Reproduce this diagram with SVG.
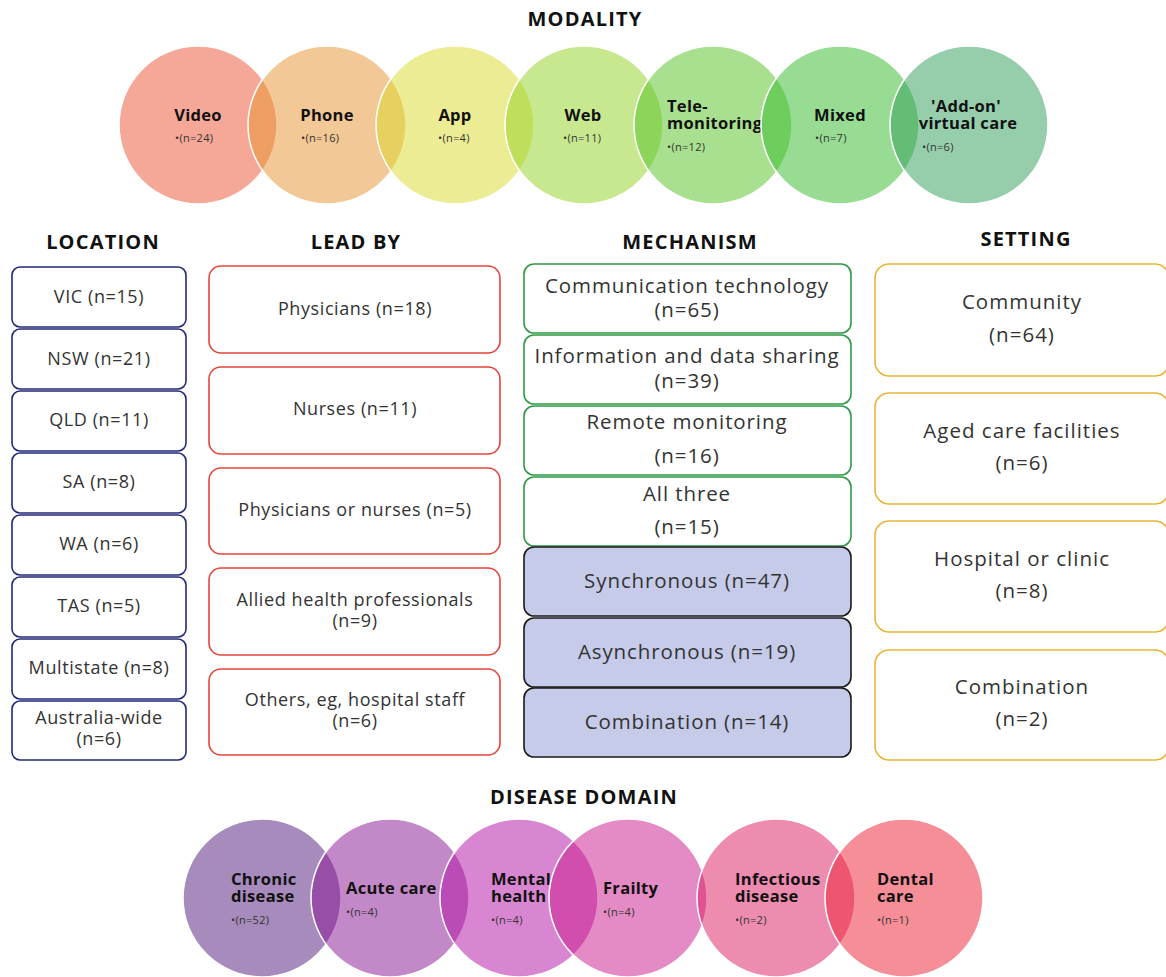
<svg xmlns="http://www.w3.org/2000/svg" width="1166" height="977" viewBox="0 0 1166 977">
<style>
.h{font-family:"Open Sans","Liberation Sans",sans-serif;font-weight:700;font-size:20px;letter-spacing:1.2px;fill:#111;text-anchor:middle}
.ct{font-family:"Open Sans","Liberation Sans",sans-serif;font-weight:700;font-size:16.5px;letter-spacing:0.3px;fill:#111}
.cn{font-family:"Open Sans","Liberation Sans",sans-serif;font-size:11px;letter-spacing:0.3px;fill:#333}
.c{stroke:#fff;stroke-width:1.5;fill-opacity:0.5}
.bt{font-family:"Open Sans","Liberation Sans",sans-serif;fill:#333;text-anchor:middle}
.loc rect{fill:#fff;stroke:#23297a;stroke-width:1.6}
.lead rect{fill:#fff;stroke:#e5453b;stroke-width:1.6}
.mech rect{fill:#fff;stroke:#2f9a45;stroke-width:1.6}
.mech2 rect{fill:#c5cbe8;stroke:#1a1a1a;stroke-width:1.6}
.set rect{fill:#fff;stroke:#ebb43a;stroke-width:1.6}
.loc text,.lead text{font-size:18px;letter-spacing:0.6px}
.mech text,.mech2 text{font-size:20.5px;letter-spacing:0.9px}
.set text{font-size:20.5px;letter-spacing:1px}
</style>
<rect width="1166" height="977" fill="#fff"/>
<g id="headings">
<text class="h" x="585" y="26">MODALITY</text>
<text class="h" x="103" y="249">LOCATION</text>
<text class="h" x="356" y="249">LEAD BY</text>
<text class="h" x="690" y="249">MECHANISM</text>
<text class="h" x="1026" y="246">SETTING</text>
<text class="h" x="584" y="804">DISEASE DOMAIN</text>
</g>
<g id="connectors"/>
<g id="modality">
<g id="m-video"><circle class="c" cx="198" cy="125" r="79" fill="#ed5131"/><text class="ct" x="198" y="121" text-anchor="middle">Video</text><text class="cn" x="175" y="142">•(n=24)</text></g>
<g id="m-phone"><circle class="c" cx="327" cy="125" r="79" fill="#e5912d"/><text class="ct" x="327" y="121" text-anchor="middle">Phone</text><text class="cn" x="301" y="142">•(n=16)</text></g>
<g id="m-app"><circle class="c" cx="455" cy="125" r="79" fill="#d9d929"/><text class="ct" x="455" y="121" text-anchor="middle">App</text><text class="cn" x="438" y="142">•(n=4)</text></g>
<g id="m-web"><circle class="c" cx="584" cy="125" r="79" fill="#91d121"/><text class="ct" x="583" y="121" text-anchor="middle">Web</text><text class="cn" x="563" y="142">•(n=11)</text></g>
<g id="m-tele"><circle class="c" cx="713" cy="125" r="79" fill="#51c121"/><text class="ct" x="667" y="112">Tele-<tspan x="667" y="129">monitoring</tspan></text><text class="cn" x="667" y="151">•(n=12)</text></g>
<g id="m-mixed"><circle class="c" cx="840" cy="125" r="79" fill="#31b929"/><text class="ct" x="840" y="121" text-anchor="middle">Mixed</text><text class="cn" x="815" y="142">•(n=7)</text></g>
<g id="m-addon"><circle class="c" cx="969" cy="125" r="79" fill="#2d9d59"/><text class="ct" x="966" y="112" text-anchor="middle">'Add-on'<tspan x="968" y="129">virtual care</tspan></text><text class="cn" x="922" y="151">•(n=6)</text></g>
</g>
<g id="location" class="loc">
<g id="loc-vic"><rect x="12" y="267" width="174" height="60" rx="8"/><text class="bt" x="99" y="303">VIC (n=15)</text></g>
<g id="loc-nsw"><rect x="12" y="329" width="174" height="60" rx="8"/><text class="bt" x="99" y="365">NSW (n=21)</text></g>
<g id="loc-qld"><rect x="12" y="391" width="174" height="60" rx="8"/><text class="bt" x="99" y="426">QLD (n=11)</text></g>
<g id="loc-sa"><rect x="12" y="453" width="174" height="60" rx="8"/><text class="bt" x="99" y="488">SA (n=8)</text></g>
<g id="loc-wa"><rect x="12" y="515" width="174" height="60" rx="8"/><text class="bt" x="99" y="550">WA (n=6)</text></g>
<g id="loc-tas"><rect x="12" y="577" width="174" height="60" rx="8"/><text class="bt" x="99" y="612">TAS (n=5)</text></g>
<g id="loc-multi"><rect x="12" y="639" width="174" height="60" rx="8"/><text class="bt" x="99" y="674">Multistate (n=8)</text></g>
<g id="loc-aus"><rect x="12" y="701" width="174" height="59" rx="8"/><text class="bt" x="99" y="724">Australia-wide<tspan x="99" y="745">(n=6)</tspan></text></g>
</g>
<g id="leadby" class="lead">
<g id="lead-phys"><rect x="209" y="266" width="291" height="87" rx="12"/><text class="bt" x="355" y="315">Physicians (n=18)</text></g>
<g id="lead-nurse"><rect x="209" y="367" width="291" height="87" rx="12"/><text class="bt" x="355" y="415">Nurses (n=11)</text></g>
<g id="lead-either"><rect x="209" y="468" width="291" height="86" rx="12"/><text class="bt" x="355" y="516">Physicians or nurses (n=5)</text></g>
<g id="lead-allied"><rect x="209" y="568" width="291" height="87" rx="12"/><text class="bt" x="355" y="606">Allied health professionals<tspan x="355" y="627">(n=9)</tspan></text></g>
<g id="lead-others"><rect x="209" y="669" width="291" height="86" rx="12"/><text class="bt" x="355" y="706">Others, eg, hospital staff<tspan x="355" y="727">(n=6)</tspan></text></g>
</g>
<g id="mechanism">
<g id="mech-comm" class="mech"><rect x="524" y="264" width="327" height="69" rx="10"/><text class="bt" x="687" y="293">Communication technology<tspan x="687" y="317">(n=65)</tspan></text></g>
<g id="mech-info" class="mech"><rect x="524" y="335" width="327" height="69" rx="10"/><text class="bt" x="687" y="363">Information and data sharing<tspan x="687" y="388">(n=39)</tspan></text></g>
<g id="mech-remote" class="mech"><rect x="524" y="406" width="327" height="69" rx="10"/><text class="bt" x="687" y="429">Remote monitoring</text><text class="bt" x="687" y="463">(n=16)</text></g>
<g id="mech-all" class="mech"><rect x="524" y="477" width="327" height="69" rx="10"/><text class="bt" x="687" y="501">All three</text><text class="bt" x="687" y="534">(n=15)</text></g>
<g id="mech-sync" class="mech2"><rect x="524" y="547" width="327" height="69" rx="10"/><text class="bt" x="687" y="588">Synchronous (n=47)</text></g>
<g id="mech-async" class="mech2"><rect x="524" y="618" width="327" height="69" rx="10"/><text class="bt" x="687" y="659">Asynchronous (n=19)</text></g>
<g id="mech-comb" class="mech2"><rect x="524" y="688" width="327" height="69" rx="10"/><text class="bt" x="687" y="729">Combination (n=14)</text></g>
</g>
<g id="setting" class="set">
<g id="set-comm"><rect x="875" y="264" width="294" height="112" rx="14"/><text class="bt" x="1022" y="309">Community</text><text class="bt" x="1022" y="342">(n=64)</text></g>
<g id="set-aged"><rect x="875" y="393" width="294" height="111" rx="14"/><text class="bt" x="1022" y="438">Aged care facilities</text><text class="bt" x="1022" y="470">(n=6)</text></g>
<g id="set-hosp"><rect x="875" y="521" width="294" height="111" rx="14"/><text class="bt" x="1022" y="566">Hospital or clinic</text><text class="bt" x="1022" y="598">(n=8)</text></g>
<g id="set-comb"><rect x="875" y="650" width="294" height="110" rx="14"/><text class="bt" x="1022" y="694">Combination</text><text class="bt" x="1022" y="726">(n=2)</text></g>
</g>
<g id="disease">
<g id="d-chronic"><circle class="c" cx="262" cy="898" r="79" fill="#4d1779"/><text class="ct" x="231" y="885">Chronic<tspan x="231" y="902">disease</tspan></text><text class="cn" x="231" y="924">•(n=52)</text></g>
<g id="d-acute"><circle class="c" cx="390" cy="898" r="79" fill="#851191"/><text class="ct" x="346" y="894">Acute care</text><text class="cn" x="346" y="916">•(n=4)</text></g>
<g id="d-mental"><circle class="c" cx="519" cy="898" r="79" fill="#b10da5"/><text class="ct" x="491" y="885">Mental<tspan x="491" y="902">health</tspan></text><text class="cn" x="491" y="924">•(n=4)</text></g>
<g id="d-frailty"><circle class="c" cx="628" cy="898" r="79" fill="#c91589"/><text class="ct" x="603" y="894">Frailty</text><text class="cn" x="603" y="916">•(n=4)</text></g>
<g id="d-infect"><circle class="c" cx="776" cy="898" r="79" fill="#dd1961"/><text class="ct" x="735" y="885">Infectious<tspan x="735" y="902">disease</tspan></text><text class="cn" x="735" y="924">•(n=2)</text></g>
<g id="d-dental"><circle class="c" cx="904" cy="898" r="79" fill="#ed1d31"/><text class="ct" x="877" y="885">Dental<tspan x="877" y="902">care</tspan></text><text class="cn" x="877" y="924">•(n=1)</text></g>
</g>
</svg>
